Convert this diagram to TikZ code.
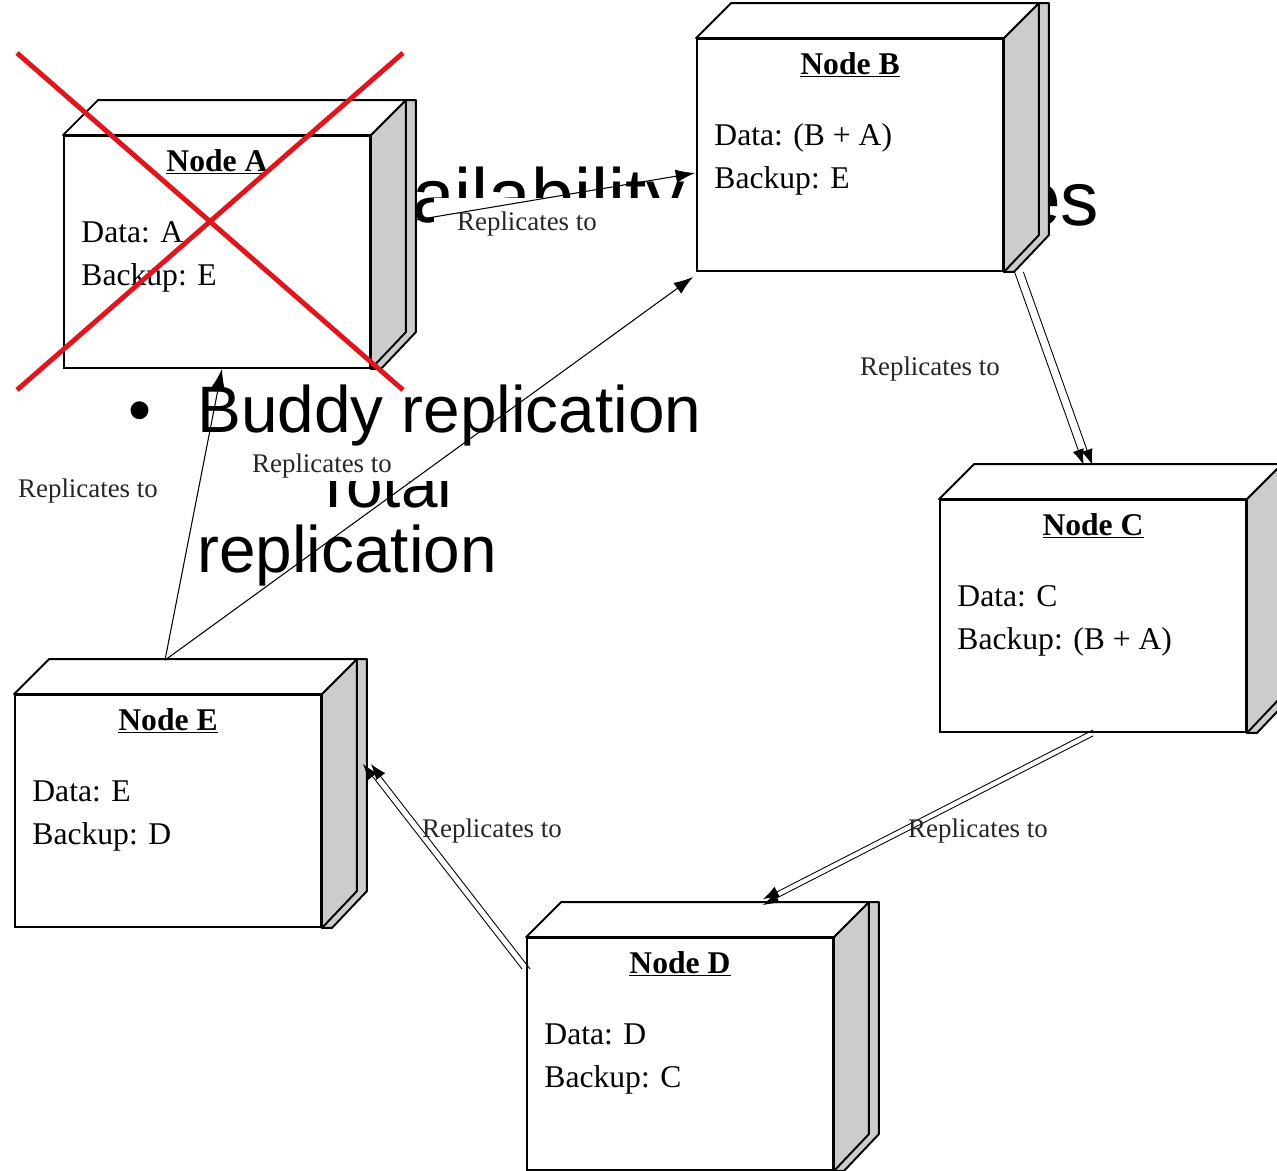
\documentclass[tikz,border=0pt]{standalone}
\usepackage{fontspec}
\setmainfont{Liberation Serif}
\newfontfamily\slidefont{Liberation Sans}
\usetikzlibrary{calc,arrows.meta}

\definecolor{sidegray}{RGB}{204,204,204}
\definecolor{crossred}{RGB}{224,22,30}

\begin{document}
\begin{tikzpicture}[
		x=0.02cm, y=-0.02cm,
		box/.style={draw,line width=1.1pt,fill=white,minimum width=6.12cm,minimum height=4.64cm,inner sep=0pt},
		face/.style={draw,line width=1.1pt,line join=round},
		nodetitle/.style={anchor=base,inner sep=0pt,font=\fontsize{18}{22}\selectfont\bfseries},
		info/.style={anchor=base west,inner sep=0pt,font=\fontsize{18}{22}\selectfont},
		lbl/.style={inner sep=1pt,text=black!85,font=\fontsize{15.3}{18}\selectfont},
		slide/.style={anchor=base west,inner sep=0pt,font=\slidefont\fontsize{37.4}{44}\selectfont},
		headline/.style={slide,font=\slidefont\fontsize{43.6}{52}\selectfont},
		arrow/.style={-{Latex[length=11pt,width=7.5pt]},line width=0.6pt},
		dbl/.style={-{Latex[length=9pt,width=6.5pt]},line width=0.5pt},
		redcross/.style={crossred,line width=2.8pt}
		]
		\useasboundingbox (0,0) rectangle (1277,1170);
		\clip (0,0) rectangle (1277,1170);
		\fill[white] (0,0) rectangle (1277,1170);
		
		% slide text lying under the diagram
		\node[headline] (head) at (324,222) {Availability};
		\node[headline] (headend) at (1018,225) {es};
		\node[slide] (dot) at (128,432) {\textbullet};
		\node[slide] (buddy) at (197,432) {Buddy replication};
		\node[slide] (total) at (313,507) {Total};
		\node[slide] (repl) at (197,572) {replication};
		
		% white areas of the pasted diagram
		\fill[white] (434,198) rectangle (697,262);
		\fill[white] (240,448) rectangle (470,481);
		
		% manual positions
		\node[box] (A) at (217,252) {};
		\node[box] (B) at (850,155) {};
		\node[box] (C) at (1093,616) {};
		\node[box] (D) at (680,1054) {};
		\node[box] (E) at (168,811) {};
		
		% depth of the boxes
		\foreach \n in {A,B,C,D,E}{
			\draw[face,fill=sidegray] (\n.south east) -- (\n.north east) -- ++(35,-35) -- ++(10,0)
			-- ++(0,232) -- ($(\n.south east)+(10,0)$) -- cycle;
			\draw[face,fill=sidegray] (\n.north east) -- ++(35,-35) -- ++(0,232) -- (\n.south east) -- cycle;
			\draw[face,fill=white] (\n.north west) -- ++(35,-35) -- ($(\n.north east)+(35,-35)$)
			-- (\n.north east) -- cycle;
		}
		
		% box texts
		\foreach \n/\d/\b in {A/A/E, B/(B + A)/E, C/C/(B + A), D/D/C, E/E/D}{
			\node[nodetitle] (t\n) at ($(\n.north)+(0,36)$) {\underline{Node \n}};
			\node[info] (d\n) at ($(\n.north west)+(18,107)$) {Data: \d};
			\node[info] (b\n) at ($(\n.north west)+(18,150)$) {Backup: \b};
		}
		
		% arrows
		\coordinate (Etop) at ($(E.north)+(-3,-34)$);
		\draw[arrow] ($(A.east)+(45,-32)$) -- ($(B.west)+(-1,18)$);
		\draw[arrow] (Etop) -- ($(A.south)+(5,0)$);
		\draw[arrow] (Etop) -- ($(B.south west)+(-3,5)$);
		\draw[dbl,transform canvas={xshift=-2.5pt}] ($(B.south east)+(15,0)$) -- ($(C.north)+(-5,-34)$);
		\draw[dbl,transform canvas={xshift=2.5pt}] ($(B.south east)+(15,0)$) -- ($(C.north)+(-5,-34)$);
		\draw[dbl,transform canvas={yshift=1.7pt}] (C.south) -- ($(D.north)+(83,-35)$);
		\draw[dbl,transform canvas={yshift=-1.7pt}] (C.south) -- ($(D.north)+(83,-35)$);
		\draw[dbl,transform canvas={xshift=-2.3pt}] ($(D.north west)+(0,32)$) -- ($(E.east)+(45,-47)$);
		\draw[dbl,transform canvas={xshift=2.3pt}] ($(D.north west)+(0,32)$) -- ($(E.east)+(45,-47)$);
		
		% labels
		\node[lbl] (rAB) at (527,224) {Replicates to};
		\node[lbl] (rBC) at (930,369) {Replicates to};
		\node[lbl] (rCD) at (978,831) {Replicates to};
		\node[lbl] (rDE) at (492,831) {Replicates to};
		\node[lbl] (rEA) at (88,491) {Replicates to};
		\node[lbl] (rEB) at (322,466) {Replicates to};
		
		% failed node
		\draw[redcross] (17,53) -- (403,390);
		\draw[redcross] (403,53) -- (17,390);
	\end{tikzpicture}
\end{document}
